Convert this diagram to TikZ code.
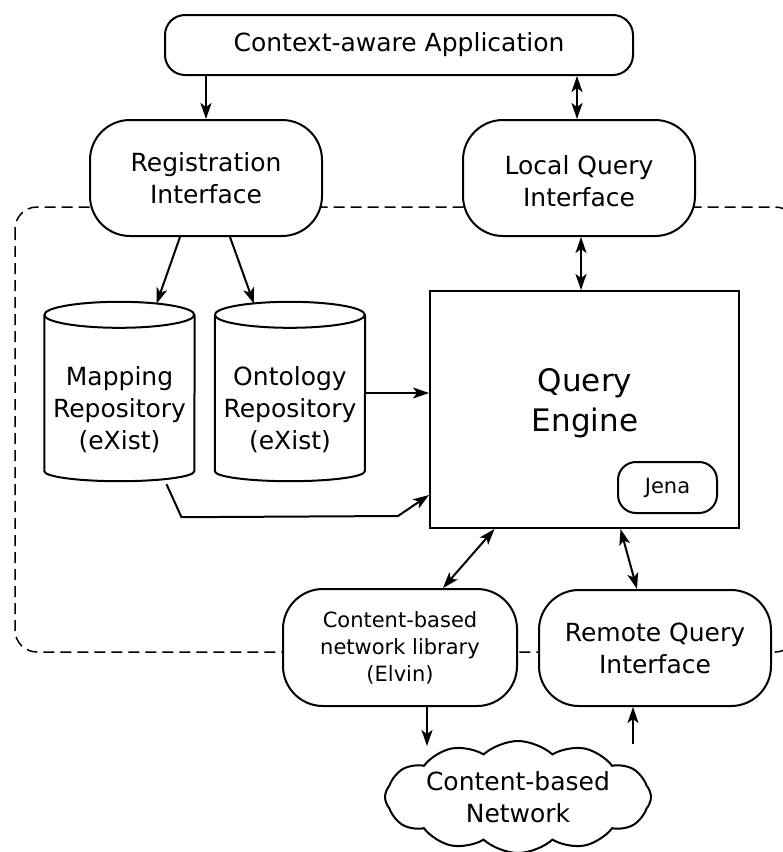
\documentclass[tikz,border=0pt]{standalone}
\usepackage{fontspec}
\setmainfont{DejaVu Sans}
\usetikzlibrary{arrows.meta,shapes.symbols,calc}
\begin{document}
\begin{tikzpicture}[x=1pt,y=-1pt,
  every node/.style={font=\fontsize{25}{32}\selectfont, align=center, inner sep=0pt},
  line/.style={line width=2pt},
  rbox/.style={draw, line width=2pt, fill=white, rounded corners=40pt,
    minimum width=232pt, minimum height=116pt},
  cyl/.style={minimum width=150pt, minimum height=182pt},
  >={Stealth[length=16pt,width=11pt,inset=4pt]},
  arr/.style={line, ->},
  darr/.style={line, <->}
]
\useasboundingbox (0,0) rectangle (783,852);

% subsystem boundary
\draw[line width=1.5pt, dash pattern=on 11pt off 6pt, rounded corners=22pt]
  (15,207) rectangle (797,652);

% application and interfaces
\node[draw, line width=2pt, fill=white, rounded corners=20pt,
  minimum width=468pt, minimum height=60pt] (app) at (399,45) {Context-aware Application};
\node[rbox] (reg) at (206,178) {Registration\\Interface};
\node[rbox] (lqi) at (579,178) {};
\node at (579,181) {Local Query\\Interface};

% query engine
\node[draw, line width=2pt, fill=white, minimum width=309pt, minimum height=237pt]
  (qe) at (584.5,409.5) {};
\node[font=\fontsize{31}{40}\selectfont] (qet) at (585,403) {Query\\Engine};
\node[draw, line width=2pt, rounded corners=18pt, minimum width=99pt, minimum height=51pt,
  font=\fontsize{21}{27}\selectfont] (jena) at (667.5,487.5) {Jena};

% repositories
\node[cyl] (map) at (119.5,393) {};
\node[cyl] (ont) at (290,393) {};
\foreach \c in {map,ont}{
  \draw[line] ([yshift=-13pt]\c.north west) -- ([yshift=13pt]\c.south west)
    arc[start angle=180, end angle=360, x radius=75pt, y radius=10pt]
    -- ([yshift=-13pt]\c.north east);
  \draw[line] ([yshift=-13pt]\c.north west)
    arc[start angle=180, end angle=-180, x radius=75pt, y radius=13pt];
}
\node at (119.5,410) {Mapping\\Repository\\(eXist)};
\node at (290,410) {Ontology\\Repository\\(eXist)};

% network side
\node[rbox, minimum width=234pt, minimum height=117pt, font=\fontsize{21}{27}\selectfont]
  (cbl) at (400,647.5) {Content-based\\network library\\(Elvin)};
\node[rbox] (rqi) at (655,648) {Remote Query\\Interface};
\node[cloud, draw, line width=2pt, fill=white, cloud puffs=12, cloud puff arc=85,
  cloud ignores aspect, minimum width=266pt, minimum height=112pt] (net) at (518,797)
  {Content-based\\Network};

\coordinate (netin) at (427,746);
\coordinate (netout) at (633,744);

% connectors
\draw[arr] (reg.north |- app.south) -- (reg.north);
\draw[darr] ([xshift=-2pt]lqi.north |- app.south) -- ([xshift=-2pt]lqi.north);
\draw[darr] ([xshift=2pt]lqi.south) -- ([xshift=2pt]lqi.south |- qe.north);
\draw[arr] ([xshift=-26pt]reg.south) -- ([xshift=37pt,yshift=-2pt]map.north);
\draw[arr] ([xshift=24pt]reg.south) -- ([xshift=-36pt,yshift=-2pt]ont.north);
\draw[arr] (ont.east) -- (ont.east -| qe.west);
\coordinate (mapout) at ([xshift=47pt]map.south);
\draw[arr] (mapout) -- ++(15,33) -- (398,516) -- ([yshift=34pt]qe.south west);
\draw[darr] ([xshift=-90pt]qe.south) -- ([xshift=43pt]cbl.north);
\draw[darr] ([xshift=36pt]qe.south) -- ([xshift=-18pt]rqi.north);
\draw[arr] (cbl.south -| netin) -- (netin);
\draw[arr] (netout) -- (rqi.south -| netout);
\end{tikzpicture}
\end{document}
